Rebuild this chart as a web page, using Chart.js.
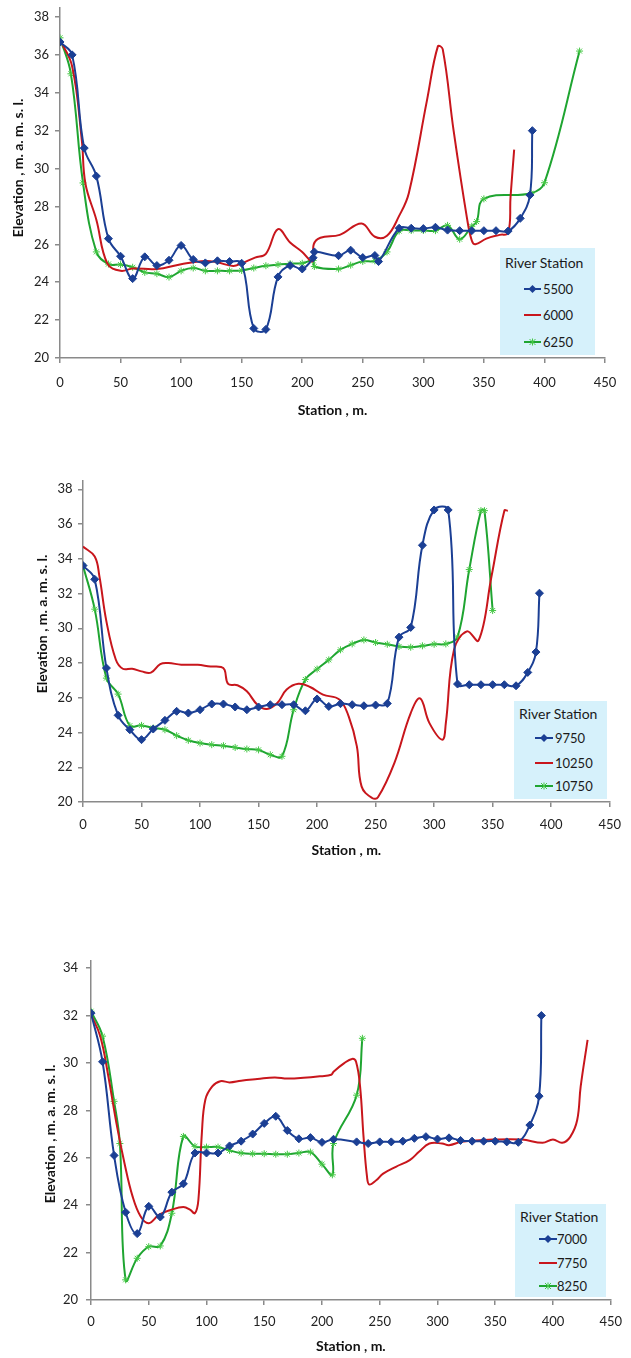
<!DOCTYPE html>
<html>
<head>
<meta charset="utf-8">
<title>River cross sections</title>
<script src="https://cdn.jsdelivr.net/npm/chart.js@4.4.1/dist/chart.umd.min.js"></script>
<style>
  body { margin: 0; background: #fff; width: 631px; height: 1358px; position: relative; overflow: hidden; font-family: Lato, "Open Sans", sans-serif; }
  canvas { position: absolute; left: 0; }
  .legend { position: absolute; background: #d6f1fb; color: #1a1a1a; }
  .legend .ttl { position: absolute; left: 5px; font-size: 14px; line-height: 16px; white-space: nowrap; }
  .legend .row { position: absolute; font-size: 13px; line-height: 16px; }
  .legend svg { position: absolute; overflow: visible; }
</style>
</head>
<body>
<canvas id="chart1"></canvas>
<canvas id="chart2"></canvas>
<canvas id="chart3"></canvas>
<script>
// ---- Data (station in m, elevation in m a.m.s.l.) ----

// Chart 1 - river stations 5500 / 6000 / 6250
const names1 = ['5500', '6000', '6250'];
const st5500 = [0, 10, 20, 30, 40, 50, 60, 70, 80, 90, 100, 110, 120, 130, 140, 150, 160, 170, 180, 190, 200, 209, 210, 230, 240, 250, 260, 263, 280, 290, 300, 310, 320, 330, 340, 350, 360, 370, 380, 388, 390];
const el5500 = [36.68, 36.0, 31.08, 29.6, 26.3, 25.37, 24.19, 25.34, 24.88, 25.16, 25.94, 25.2, 25.02, 25.13, 25.09, 25.0, 21.56, 21.51, 24.28, 24.88, 24.7, 25.29, 25.6, 25.4, 25.69, 25.3, 25.41, 25.09, 26.85, 26.85, 26.83, 26.9, 26.75, 26.72, 26.72, 26.72, 26.72, 26.7, 27.37, 28.6, 32.0];
const st6000 = [0, 10, 18, 21, 30, 39, 50, 60, 80, 100, 120, 130, 143, 150, 161, 170, 180, 190, 200, 208.5, 209.5, 215, 231, 249, 260, 270, 280, 288, 303, 312, 316, 325, 336, 340, 343, 352, 363, 370, 372, 375];
const el6000 = [36.8, 35.4, 31.5, 29.2, 27.3, 25.0, 24.6, 24.72, 24.7, 24.95, 25.12, 25.05, 24.86, 25.0, 25.3, 25.5, 26.8, 26.1, 25.6, 25.1, 26.0, 26.35, 26.5, 27.1, 26.4, 26.45, 27.5, 28.7, 33.6, 36.45, 36.3, 32.0, 27.4, 26.2, 26.0, 26.3, 26.5, 26.6, 28.5, 31.0];
const st6250 = [0, 9, 19, 30, 40, 50, 60, 70, 80, 90, 100, 110, 120, 130, 140, 150, 160, 170, 180, 190, 200, 209, 210, 230, 240, 250, 260, 270, 280, 290, 300, 310, 320, 330, 340, 344, 350, 389, 400, 429];
const el6250 = [36.9, 35.0, 29.24, 25.6, 24.96, 24.93, 24.79, 24.52, 24.45, 24.27, 24.6, 24.75, 24.6, 24.6, 24.6, 24.62, 24.75, 24.87, 24.93, 24.98, 25.0, 25.15, 24.83, 24.7, 24.9, 25.1, 25.13, 25.6, 26.7, 26.73, 26.73, 26.72, 27.0, 26.27, 26.95, 27.2, 28.4, 28.7, 29.25, 36.2];

// Chart 2 - river stations 9750 / 10250 / 10750
const names2 = ['9750', '10250', '10750'];
const st9750 = [0, 10, 20, 30, 40, 50, 60, 70, 80, 90, 100, 110, 120, 130, 140, 150, 160, 170, 180, 190, 200, 210, 220, 230, 240, 250, 260, 270, 280, 290, 300, 312, 320, 330, 340, 350, 360, 370, 380, 387, 390];
const el9750 = [33.61, 32.82, 27.71, 24.99, 24.16, 23.59, 24.2, 24.7, 25.22, 25.12, 25.31, 25.64, 25.64, 25.47, 25.31, 25.47, 25.6, 25.6, 25.6, 25.25, 25.93, 25.5, 25.66, 25.6, 25.54, 25.58, 25.67, 29.49, 30.05, 34.78, 36.81, 36.81, 26.79, 26.75, 26.75, 26.75, 26.75, 26.69, 27.46, 28.63, 32.02];
const st10250 = [0, 10, 14, 20, 28, 34, 42, 50, 58, 66, 73, 84, 98, 109, 118, 121, 124, 132, 140, 149, 157, 166, 174, 184, 194, 205, 219, 227, 234, 238, 247, 252, 266, 280, 288, 296, 307, 310, 317, 328, 338, 349, 360, 363];
const el10250 = [34.7, 34.13, 33.0, 30.4, 28.2, 27.67, 27.67, 27.52, 27.45, 27.94, 28.0, 27.9, 27.9, 27.8, 27.77, 27.6, 26.8, 26.72, 26.37, 25.6, 25.35, 25.7, 26.47, 26.8, 26.62, 26.18, 25.9, 24.93, 23.2, 20.9, 20.23, 20.27, 22.24, 25.12, 25.96, 24.54, 23.59, 24.54, 28.76, 29.82, 29.3, 32.98, 36.77, 36.77];
const st10750 = [0, 10, 20, 30, 40, 50, 60, 70, 80, 90, 100, 110, 120, 130, 140, 150, 160, 170, 180, 190, 200, 210, 220, 230, 240, 250, 260, 270, 280, 290, 300, 310, 320, 330, 340, 343, 350];
const el10750 = [33.6, 31.1, 27.13, 26.21, 24.39, 24.41, 24.26, 24.16, 23.82, 23.55, 23.39, 23.3, 23.24, 23.14, 23.05, 23.0, 22.72, 22.63, 25.31, 27.05, 27.65, 28.18, 28.76, 29.1, 29.33, 29.18, 29.08, 28.95, 28.91, 28.99, 29.08, 29.1, 29.5, 33.38, 36.77, 36.77, 31.02];

// Chart 3 - river stations 7000 / 7750 / 8250
const names3 = ['7000', '7750', '8250'];
const st7000 = [0, 10, 20, 30, 40, 50, 60, 70, 80, 90, 100, 110, 120, 130, 140, 150, 160, 170, 180, 190, 200, 210, 230, 240, 250, 260, 270, 280, 290, 300, 310, 320, 330, 340, 350, 360, 370, 380, 388, 390];
const el7000 = [32.1, 30.05, 26.1, 23.7, 22.8, 23.95, 23.5, 24.55, 24.9, 26.2, 26.2, 26.2, 26.5, 26.7, 27.0, 27.45, 27.75, 27.15, 26.8, 26.85, 26.65, 26.78, 26.67, 26.6, 26.67, 26.67, 26.7, 26.82, 26.89, 26.79, 26.84, 26.73, 26.7, 26.7, 26.7, 26.67, 26.65, 27.38, 28.6, 32.0];
const st7750 = [0, 8, 15, 22, 29, 36, 43, 50, 59, 69, 80, 86, 90, 93, 96, 99, 105, 112, 120, 130, 144, 159, 170, 184, 199, 208, 210, 219, 226, 229.5, 233, 236, 239, 241, 247, 253, 264, 276, 284, 293, 304, 310, 321, 350, 373, 391, 400, 408, 415, 421, 424, 430];
const el7750 = [32.04, 31.13, 29.44, 27.46, 25.77, 24.37, 23.52, 23.24, 23.6, 23.8, 23.92, 23.8, 23.66, 24.23, 27.04, 28.45, 29.01, 29.23, 29.18, 29.25, 29.32, 29.39, 29.34, 29.37, 29.44, 29.5, 29.63, 29.98, 30.17, 30.05, 29.0, 26.88, 25.2, 24.87, 25.05, 25.33, 25.62, 25.9, 26.25, 26.6, 26.6, 26.53, 26.67, 26.77, 26.77, 26.63, 26.77, 26.63, 26.88, 27.59, 29.0, 30.97];
const st8250 = [0, 10, 20, 25, 30, 40, 50, 60, 70, 80, 90, 100, 110, 120, 130, 140, 150, 160, 170, 180, 190, 200, 209, 210, 230, 235];
const el8250 = [32.18, 31.13, 28.38, 26.6, 20.85, 21.76, 22.25, 22.28, 23.66, 26.9, 26.48, 26.45, 26.45, 26.31, 26.2, 26.17, 26.17, 26.15, 26.15, 26.2, 26.24, 25.73, 25.28, 26.6, 28.64, 31.04];

// ---- Styles ----
const lineColors = ['#1b3f94', '#c8161c', '#1fa531'];
const markerColors = ['#1b3f94', '#c8161c', '#45c845'];
const markerStyles = ['rectRot', false, 'star'];
const markerSizes = [4, 0, 3.5];
const axisColor = '#8a8a8a';
const tickFont = { family: 'Lato', size: 13 };
const titleFont = { family: 'Lato', size: 14, weight: 'bold' };
const yTitleText = 'Elevation , m. a. m. s. l.';

// plot frames in page pixels (left/right/top/bottom of the plot area)
const frames = [
  { left: 60, right: 605, top: 7.5, bottom: 358, yMax: 38.5, xTitleY: 410, yTitleX: 18, yTitleY: 168, xPad: 12, yPad: 6,
    legend: { x: 500, y: 248, w: 95, h: 107, titleY: 15, rows: [41, 67, 94], marker: [24, 41], textX: 43 } },
  { left: 83, right: 618, top: 480.6, bottom: 802, yMax: 38.5, xTitleY: 850, yTitleX: 42, yTitleY: 624, xPad: 10, yPad: 5.5,
    legend: { x: 514, y: 701, w: 93, h: 98, titleY: 13, rows: [37, 62, 85], marker: [21, 39], textX: 41 } },
  { left: 91, right: 617, top: 961, bottom: 1300, yMax: 34.3, xTitleY: 1346, yTitleX: 50, yTitleY: 1134, xPad: 9, yPad: 8,
    legend: { x: 515, y: 1204, w: 91, h: 93, titleY: 13, rows: [35, 59, 82], marker: [24, 42], textX: 42 } }
];

// rotated y axis title, placed where the original has it (a bit above the axis middle)
const yTitlePlugin = {
  id: 'yTitle',
  afterDraw(chart, args, opts) {
    const ctx = chart.ctx;
    ctx.save();
    ctx.translate(opts.x, opts.y);
    ctx.rotate(-Math.PI / 2);
    ctx.font = 'bold 14px Lato';
    ctx.fillStyle = '#111';
    ctx.textAlign = 'center';
    ctx.textBaseline = 'middle';
    ctx.fillText(opts.text, 0, 0);
    ctx.restore();
  }
};

function buildChart(canvasId, frame, names, xs, ys) {
  const canvasTop = Math.floor(frame.top) - 20;
  const canvasHeight = Math.ceil(frame.xTitleY) + 12 - canvasTop;
  const xAxisHeight = frame.xTitleY + 8.4 - frame.bottom;
  const canvas = document.getElementById(canvasId);
  canvas.width = 631;
  canvas.height = canvasHeight;
  canvas.style.top = canvasTop + 'px';

  const datasets = names.map((name, i) => ({
    label: name,
    data: xs[i].map((x, j) => ({ x: x, y: ys[i][j] })),
    borderColor: lineColors[i],
    backgroundColor: lineColors[i],
    borderWidth: 2,
    tension: 0.4,
    fill: false,
    pointStyle: markerStyles[i],
    pointRadius: markerSizes[i],
    pointBackgroundColor: markerColors[i],
    pointBorderColor: markerColors[i],
    pointBorderWidth: 1
  }));

  return new Chart(canvas, {
    type: 'line',
    data: { datasets: datasets },
    plugins: [yTitlePlugin],
    options: {
      responsive: false,
      animation: false,
      events: [],
      layout: {
        padding: {
          left: 0,
          top: frame.top - canvasTop,
          right: 631 - frame.right,
          bottom: canvasHeight - (frame.bottom - canvasTop) - xAxisHeight
        }
      },
      plugins: {
        legend: { display: false },
        tooltip: { enabled: false },
        yTitle: { text: yTitleText, x: frame.yTitleX, y: frame.yTitleY - canvasTop }
      },
      scales: {
        x: {
          type: 'linear',
          min: 0,
          max: 450,
          afterFit: (scale) => { scale.height = xAxisHeight; },
          ticks: { stepSize: 50, padding: frame.xPad, color: '#222', font: tickFont, maxRotation: 0 },
          grid: { drawOnChartArea: false, drawTicks: true, tickLength: 5, color: axisColor, lineWidth: 1.5 },
          border: { color: axisColor, width: 1.5 },
          title: { display: true, text: 'Station , m.', color: '#111', font: titleFont, padding: 0 }
        },
        y: {
          min: 20,
          max: frame.yMax,
          afterFit: (scale) => { scale.width = frame.left; },
          ticks: { stepSize: 2, includeBounds: false, padding: frame.yPad, color: '#222', font: tickFont },
          grid: { drawOnChartArea: false, drawTicks: true, tickLength: 5, color: axisColor, lineWidth: 1.5 },
          border: { color: axisColor, width: 1.5 }
        }
      }
    }
  });
}

// HTML legend box "River Station"
function buildLegend(box, names) {
  const div = document.createElement('div');
  div.className = 'legend';
  div.style.left = box.x + 'px';
  div.style.top = box.y + 'px';
  div.style.width = box.w + 'px';
  div.style.height = box.h + 'px';

  const title = document.createElement('div');
  title.className = 'ttl';
  title.textContent = 'River Station';
  title.style.top = (box.titleY - 8) + 'px';
  div.appendChild(title);

  const svgNS = 'http://www.w3.org/2000/svg';
  names.forEach((name, i) => {
    const y = box.rows[i];
    const w = box.marker[1] - box.marker[0];
    const svg = document.createElementNS(svgNS, 'svg');
    svg.setAttribute('width', w);
    svg.setAttribute('height', 10);
    svg.style.left = box.marker[0] + 'px';
    svg.style.top = (y - 5) + 'px';
    const line = document.createElementNS(svgNS, 'line');
    line.setAttribute('x1', 0); line.setAttribute('x2', w);
    line.setAttribute('y1', 5); line.setAttribute('y2', 5);
    line.setAttribute('stroke', lineColors[i]);
    line.setAttribute('stroke-width', 2);
    svg.appendChild(line);
    const c = w / 2;
    if (markerStyles[i] === 'rectRot') {
      const d = document.createElementNS(svgNS, 'polygon');
      d.setAttribute('points', `${c},1 ${c + 4},5 ${c},9 ${c - 4},5`);
      d.setAttribute('fill', markerColors[i]);
      svg.appendChild(d);
    } else if (markerStyles[i] === 'star') {
      const p = document.createElementNS(svgNS, 'path');
      p.setAttribute('d', `M${c - 3},2 L${c + 3},8 M${c + 3},2 L${c - 3},8 M${c},1.5 L${c},8.5`);
      p.setAttribute('stroke', markerColors[i]);
      p.setAttribute('stroke-width', 1);
      svg.appendChild(p);
    }
    div.appendChild(svg);

    const label = document.createElement('div');
    label.className = 'row';
    label.textContent = name;
    label.style.left = box.textX + 'px';
    label.style.top = (y - 8) + 'px';
    div.appendChild(label);
  });
  document.body.appendChild(div);
}

buildChart('chart1', frames[0], names1, [st5500, st6000, st6250], [el5500, el6000, el6250]);
buildChart('chart2', frames[1], names2, [st9750, st10250, st10750], [el9750, el10250, el10750]);
buildChart('chart3', frames[2], names3, [st7000, st7750, st8250], [el7000, el7750, el8250]);
buildLegend(frames[0].legend, names1);
buildLegend(frames[1].legend, names2);
buildLegend(frames[2].legend, names3);
</script>
</body>
</html>
